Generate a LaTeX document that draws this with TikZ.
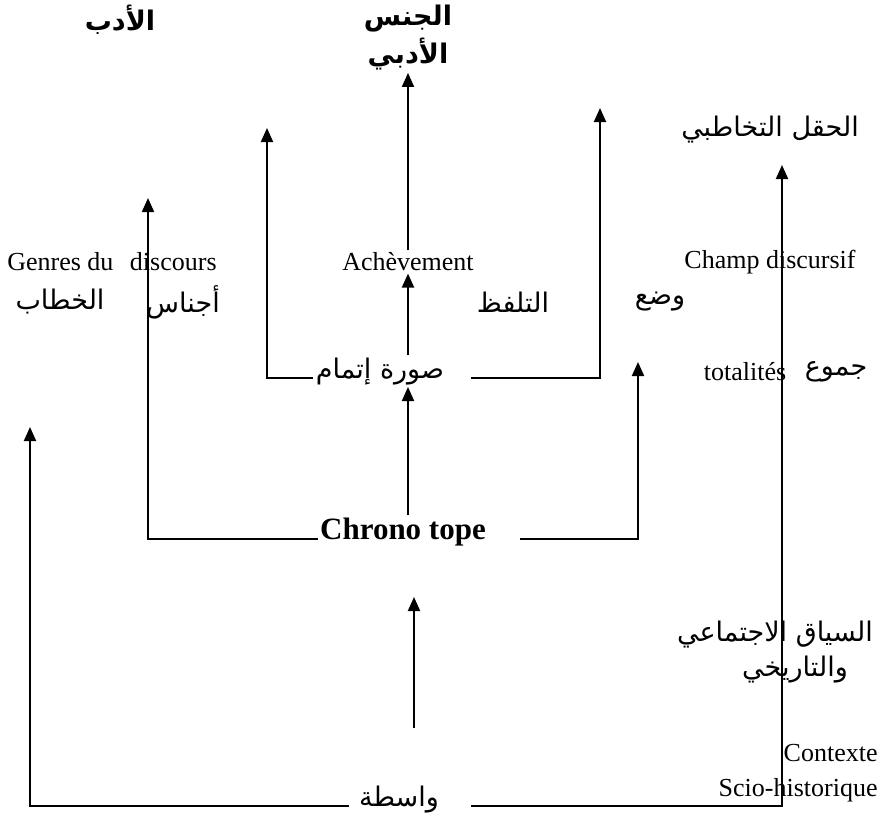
\documentclass[tikz,border=0pt]{standalone}
\usepackage{fontspec}
\setmainfont{Liberation Serif}
\newfontfamily\arabicfont[Script=Arabic]{DejaVu Sans}
\TeXXeTstate=1
\usetikzlibrary{arrows.meta}
\tikzset{%
  lat/.style  = {inner sep=1pt, font=\fontsize{13}{15}\selectfont},
  latb/.style = {inner sep=1pt, font=\fontsize{15.5}{18}\selectfont\bfseries},
  ar/.style   = {inner sep=1pt, font=\arabicfont\fontsize{13.5}{20}\selectfont},
  arb/.style  = {inner sep=1pt, align=center, font=\arabicfont\bfseries\fontsize{13.5}{19}\selectfont}
}
\tikzstyle{arrow} = [draw, line width=1pt, -{Triangle[length=7pt,width=6pt]}]

\begin{document}
\begin{tikzpicture}[x=0.5pt, y=-0.5pt]
\useasboundingbox (0,0) rectangle (883,815);

% top labels
\node [arb] (adab) at (120,20) {\beginR الأدب\endR};
\node [arb] (jins) at (408,38) {\beginR الجنس\endR\\\beginR الأدبي\endR};

% second row
\node [ar] (haql) at (770,130) {\beginR الحقل التخاطبي\endR};
\node [lat] (genres) at (112,262) {Genres du\hspace{5pt} discours};
\node [lat] (ach) at (408,262) {Achèvement};
\node [lat] (champ) at (770,262) {Champ discursif};

\node [ar] (khitab) at (60,302) {\beginR الخطاب\endR};
\node [ar] (ajnas) at (183,302) {\beginR أجناس\endR};
\node [ar] (talaffuz) at (513,302) {\beginR التلفظ\endR};
\node [ar] (wad) at (660,302) {\beginR وضع\endR};

\node [ar, anchor=base] (surat) at (380,378) {\beginR صورة إتمام\endR};
\node [lat] (total) at (745,372) {totalités};
\node [ar] (jumu) at (836,372) {\beginR جموع\endR};

\node [latb, anchor=base] (chrono) at (403,539) {Chrono tope};

\node [ar] (siyaq) at (775,635) {\beginR السياق الاجتماعي\endR};
\node [ar] (tarikh) at (795,670) {\beginR والتاريخي\endR};

\node [lat, anchor=east] (contexte) at (880,753) {Contexte};
\node [lat, anchor=east] (scio) at (880,790) {Scio-historique};
\node [ar, anchor=base] (wasita) at (399,806) {\beginR واسطة\endR};

% free ends
\coordinate (t_left) at (267,128);
\coordinate (t_right) at (600,108);
\coordinate (t_genres) at (148,198);
\coordinate (t_wad) at (638,362);
\coordinate (t_khitab) at (30,427);
\coordinate (t_haql) at (782,165);
\coordinate (m_lo) at (414,728);
\coordinate (m_hi) at (414,597);

% connectors
\draw [arrow] (ach.north) -- (jins.south);
\draw [arrow] (surat.north -| ach) -- (ach.south);
\draw [arrow] (surat.base west) -| (t_left);
\draw [arrow] ([xshift=12pt]surat.base east) -| (t_right);

\draw [arrow] (chrono.north -| ach) -- (surat.south -| ach);
\draw [arrow] (chrono.base west) -| (t_genres);
\draw [arrow] ([xshift=16pt]chrono.base east) -| (t_wad);

\draw [arrow] (m_lo) -- (m_hi);
\draw [arrow] ([xshift=-4pt]wasita.base west) -| (t_khitab);
\draw [arrow] ([xshift=15pt]wasita.base east) -| (t_haql);

\end{tikzpicture}
\end{document}
